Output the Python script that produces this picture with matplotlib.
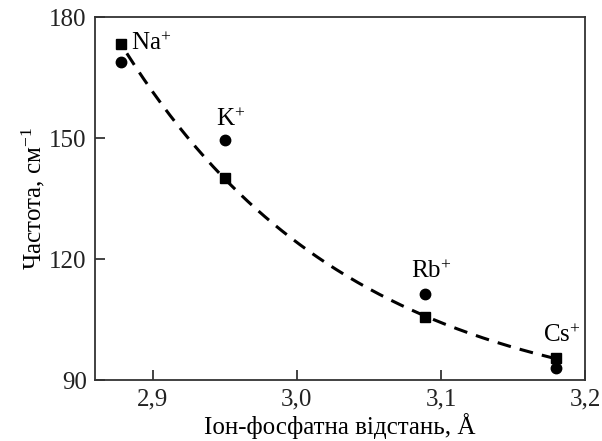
import numpy as np
import matplotlib
matplotlib.use("Agg")
import matplotlib.pyplot as plt

plt.rcParams['font.family'] = ['Liberation Serif', 'DejaVu Serif']
plt.rcParams['mathtext.fontset'] = 'custom'
plt.rcParams['mathtext.rm'] = 'Liberation Serif'
plt.rcParams['mathtext.it'] = 'Liberation Serif'

ions = ["Na", "K", "Rb", "Cs"]
distance = [2.878, 2.95, 3.089, 3.18]
freq_squares = [173.3, 140.2, 105.6, 95.4]
freq_circles = [168.9, 149.6, 111.3, 92.9]
label_x = [2.885, 2.954, 3.093, 3.184]
label_y = [173.5, 151.8, 114.0, 98.2]
label_ha = ["left", "center", "center", "center"]

fig = plt.figure(figsize=(6.02, 4.41), dpi=100)
ax = fig.add_subplot(111)
fig.subplots_adjust(left=0.158, right=0.972, top=0.961, bottom=0.138)

# exponential decay fit (y = c + a*exp(-b x)) through the square points
d = np.array(distance)
f = np.array(freq_squares)
best = None
for c in np.linspace(0, f.min() - 0.5, 400):
    k, m = np.polyfit(d, np.log(f - c), 1)
    err = np.sum((c + np.exp(m + k * d) - f) ** 2)
    if best is None or err < best[0]:
        best = (err, c, k, m)
_, c, k, m = best
xs = np.linspace(d[0] + 0.004, d[-1], 200)
ax.plot(xs, c + np.exp(m + k * xs), color='black', linestyle=(0, (4.5, 3)), linewidth=2.2)

ax.plot(distance, freq_squares, 's', color='black', markersize=7.5)
ax.plot(distance, freq_circles, 'o', color='black', markersize=7.5)

for name, x, y, ha in zip(ions, label_x, label_y, label_ha):
    va = 'center' if ha == 'left' else 'bottom'
    ax.text(x, y, name + r"$^{+}$", fontsize=18, ha=ha, va=va)

ax.set_xlim(2.86, 3.2)
ax.set_ylim(90, 180)
ax.set_xticks([2.9, 3.0, 3.1, 3.2])
ax.set_xticklabels(["2,9", "3,0", "3,1", "3,2"])
ax.set_yticks([90, 120, 150, 180])
ax.tick_params(direction='in', length=7, width=1.2, labelsize=18, pad=6, colors='#222222')
for s in ax.spines.values():
    s.set_linewidth(1.3)
    s.set_color('#333333')

ax.set_xlabel("Іон-фосфатна відстань, Å", fontsize=18, labelpad=2)
ax.set_ylabel(r"Частота, см$^{-1}$", fontsize=18, labelpad=2)

fig.savefig("out.png", dpi=100)
